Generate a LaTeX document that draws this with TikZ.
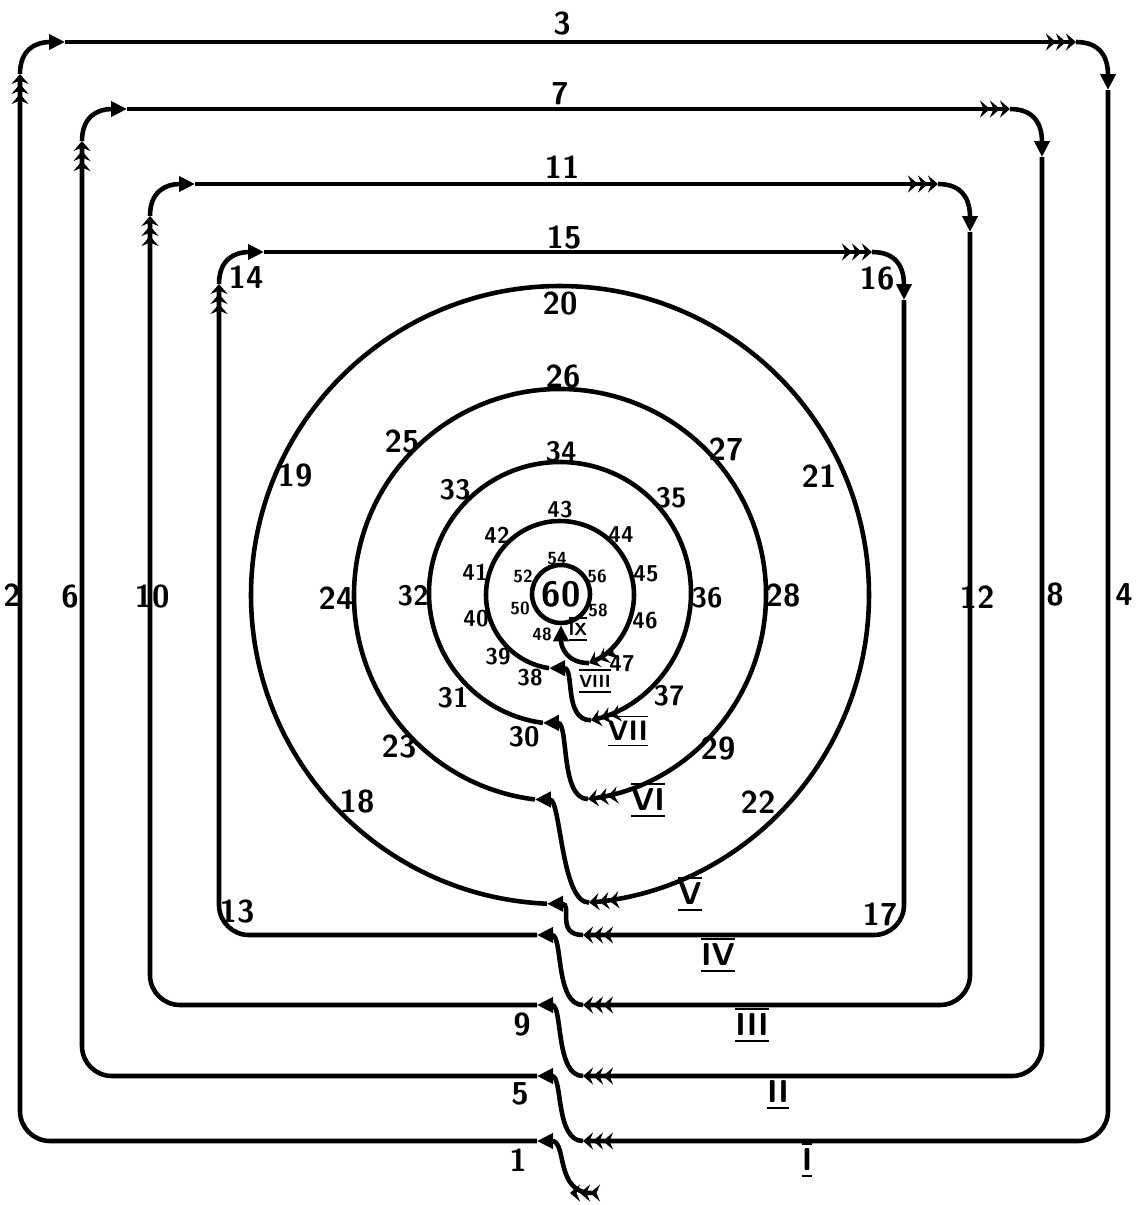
\documentclass[tikz,border=0pt]{standalone}
\usetikzlibrary{arrows.meta}
\newcommand{\romn}[1]{$\overline{\underline{\mbox{#1}}}$}
\begin{document}
\begin{tikzpicture}[x=0.1mm,y=-0.1mm,line width=1.3pt,
  font=\sffamily\bfseries\fontsize{9}{10}\selectfont,
  arrhead/.tip={Triangle[length=1.6mm,width=1.5mm]},
  feath/.tip={Stealth[length=1mm,width=1.7mm,inset=0.35mm]Stealth[length=1mm,width=1.7mm,inset=0.35mm]Stealth[length=1mm,width=1.7mm,inset=0.35mm]},
  rfeath/.tip={Stealth[reversed,length=1mm,width=1.7mm,inset=0.35mm]Stealth[reversed,length=1mm,width=1.7mm,inset=0.35mm]Stealth[reversed,length=1mm,width=1.7mm,inset=0.35mm]},
  midlbl/.style={font=\sffamily\bfseries\fontsize{8}{9}\selectfont},
  smalllbl/.style={font=\sffamily\bfseries\fontsize{6.5}{7}\selectfont},
  tinylbl/.style={font=\sffamily\bfseries\fontsize{5}{6}\selectfont}]
  \useasboundingbox (0,0) rectangle (1143,1205);
  \foreach \n/\xl/\xr/\yt/\yb in {1/20/1108/42/1141, 2/82/1042/109/1076, 3/150/970/184/1005, 4/219/904/252/935} {
    \coordinate (in\n) at (537,\yb);
    \coordinate (out\n) at (583,\yb);
    \draw[-feath,rounded corners=3mm] (in\n) -- (\xl,\yb) -- (\xl,\yt+32);
    \draw[-arrhead] (\xl,\yt+32) .. controls (\xl,\yt+8) and (\xl+15,\yt) .. (\xl+45,\yt);
    \draw[-feath] (\xl+45,\yt) -- (\xr-32,\yt);
    \draw[-arrhead] (\xr-32,\yt) .. controls (\xr-8,\yt) and (\xr,\yt+15) .. (\xr,\yt+48);
    \draw[-feath,rounded corners=3mm] (\xr,\yt+48) -- (\xr,\yb) -- (out\n);
  }
  \foreach \n/\cy/\r/\sa/\ea in {5/595/309/92.4/444.6, 6/595/206/97/442.2, 7/593/131/97.5/436.3, 8/595/74/98.5/426.9} {
    \path (560,\cy) ++(\sa:\r) coordinate (in\n);
    \draw[-feath] (in\n) arc[start angle=\sa,end angle=\ea,radius=\r] coordinate (out\n);
  }
  \node[circle,draw,minimum size=5.8mm,inner sep=0pt,font=\sffamily\bfseries\fontsize{10}{11}\selectfont] (c9) at (561,594) {60};
  \coordinate (entry) at (600,1193);
  \draw[rfeath-arrhead] (entry) .. controls +(-45,0) and +(30,0) .. (in1);
  \foreach \a/\b in {1/2,2/3,3/4,4/5,5/6,6/7,7/8}
    \draw[-arrhead] (out\a) .. controls +(-28,0) and +(26,0) .. (in\b);
  \draw[-arrhead] (out8) .. controls +(-22,0) and +(0,22) .. (c9.south);
  \foreach \t/\x/\y in {1/518/1160, 2/12/595, 3/562/24, 4/1124/595, 5/520/1094, 6/70/597, 7/560/94, 8/1055/595, 9/522/1025, 10/152/597, 11/562/167, 12/977/597, 13/237/912, 14/246/277, 15/564/238, 16/877/279, 17/880/914, 18/357/802, 19/295/476, 20/560/304, 21/819/476, 22/758/802, 23/399/747, 24/336/598, 25/402/442, 26/563/377, 27/726/449, 28/783/596, 29/718/749}
    \node (l\t) at (\x,\y) {\t};
  \foreach \t/\x/\y in {30/524/737, 31/453/698, 32/413/596, 33/455/490, 34/561/452, 35/671/498, 36/707/598, 37/669/696}
    \node[midlbl] (l\t) at (\x,\y) {\t};
  \foreach \t/\x/\y in {38/530/678, 39/498/657, 40/476/619, 41/475/572, 42/497/535, 43/560/510, 44/621/535, 45/646/574, 46/645/621, 47/622/664}
    \node[smalllbl] (l\t) at (\x,\y) {\t};
  \foreach \t/\x/\y in {48/542/634, 50/520/608, 52/523/576, 54/557/559, 56/597/576, 58/598/610}
    \node[tinylbl] (l\t) at (\x,\y) {\t};
  \foreach \t/\x/\y in {I/807/1160, II/778/1092, III/752/1025, IV/718/955, V/690/894, VI/648/800}
    \node (r\t) at (\x,\y) {\romn{\t}};
  \node[midlbl] (rVII) at (628,731) {\romn{VII}};
  \node[tinylbl] (rVIII) at (595,681) {\romn{VIII}};
  \node[tinylbl] (rIX) at (578,629) {\romn{IX}};
\end{tikzpicture}
\end{document}
